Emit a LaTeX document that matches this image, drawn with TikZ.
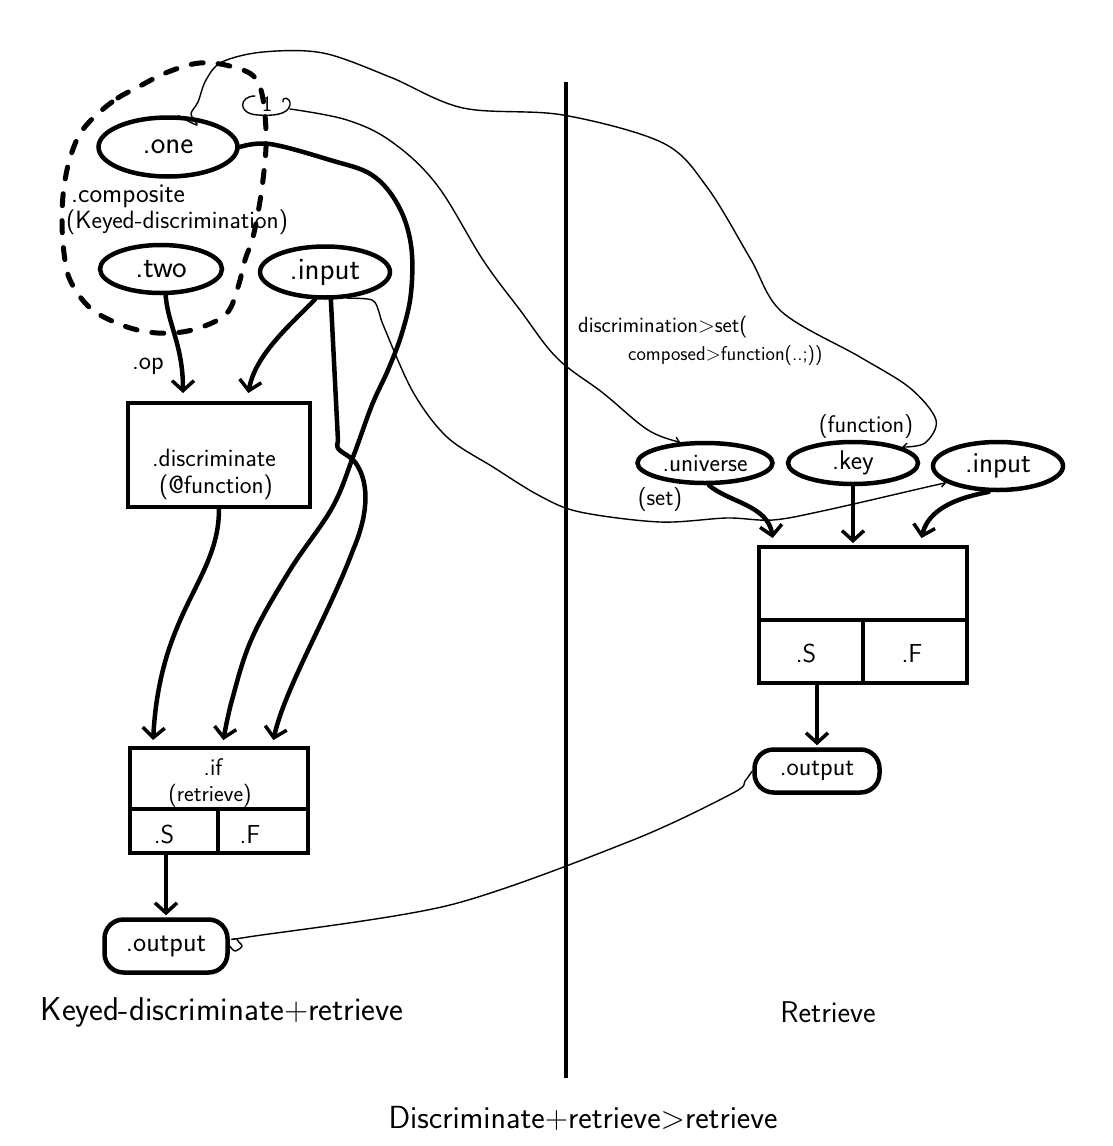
\documentclass[tikz,border=0pt]{standalone}
\usepackage{fontspec}
\usetikzlibrary{arrows.meta,shapes.geometric,calc}
\begin{document}
\begin{tikzpicture}[x=1pt,y=-1pt,
  lbl/.style={font=\sffamily\fontsize{#1}{#1}\selectfont, inner sep=0pt},
  lbl/.default=24,
  blob/.style={draw, ellipse, line width=4.5pt, inner sep=0pt},
  pill/.style={draw, rectangle, rounded corners=19pt, line width=4.5pt, inner sep=0pt},
  frame/.style={draw, rectangle, line width=4pt, inner sep=0pt},
  rule/.style={line width=4pt},
  wire/.style={line width=4.5pt, line cap=round, line join=round},
  feed/.style={wire, -{Straight Barb[length=10pt,width=22pt,line width=3.5pt]}, shorten >=2pt},
  link/.style={line width=1.4pt, line cap=round, line join=round},
  tiptag/.style={link, -{Straight Barb[length=4pt,width=8pt]}},
  ring/.style={line width=5pt, dash pattern=on 12pt off 15pt, line cap=round}
]
\useasboundingbox (0,0) rectangle (1112,1146);

% ---------- left half: keyed discrimination + retrieve ----------
\node[blob, minimum width=139pt, minimum height=59pt, lbl=31] (one) at (168,147) {.one};
\node[blob, minimum width=122pt, minimum height=48pt, lbl=31] (two) at (161,269) {.two};
\node[blob, minimum width=130pt, minimum height=51pt, lbl=31] (inL) at (325,272) {.input};

\node[lbl=27, anchor=west] (compA) at (71,196) {.composite};
\node[lbl=25, anchor=west] (compB) at (66,222) {(Keyed-discrimination)};

% dashed boundary of the composite
\draw[ring] plot[smooth cycle, tension=0.6] coordinates {
  (140,86) (112,102) (84,128) (71,155) (64,187) (62,220) (64,253) (70,280)
  (88,306) (112,321) (142,331) (173,333) (202,327) (227,313) (238,287)
  (245,260) (254,233) (263,180) (266,130) (258,82) (233,67) (200,63) (168,72)};

\node[lbl=26] (op) at (148,366) {.op};

\node[frame, minimum width=182pt, minimum height=104pt] (disc) at (219,455) {};
\node[lbl=25] (discA) at (214,458) {.discriminate};
\node[lbl=25] (discB) at (216,487) {(@function)};

\node[frame, minimum width=178pt, minimum height=105pt] (ifbox) at (219,800.5) {};
\coordinate (ifrow) at (0,809);
\coordinate (ifcol) at (218,809);
\draw[rule] (ifbox.west |- ifrow) -- (ifbox.east |- ifrow);
\draw[rule] (ifcol) -- (ifcol |- ifbox.south);
\node[lbl=24] (ifA) at (213,767) {.if};
\node[lbl=23] (ifB) at (210,796) {(retrieve)};
\node[lbl=26] (ifS) at (164,834) {.S};
\node[lbl=26] (ifF) at (250,834) {.F};

\node[pill, minimum width=123pt, minimum height=53pt, lbl=28] (outL) at (166,946) {.output};

\node[lbl=33] (titleL) at (222,1012) {Keyed-discriminate+retrieve};

% thick data flow, left half
\draw[feed] (two.-80) .. controls (168,325) and (183,345) .. ($(disc.north west)+(57,-6)$);
\draw[feed] (inL.-110) .. controls (290,325) and (255,355) .. ($(disc.north west)+(122,-6)$);
\draw[feed] (disc.south) .. controls (219,580) and (160,610) .. ($(ifbox.north west)+(25,-4)$);
\draw[feed] plot[smooth, tension=0.6] coordinates {(one.east) (270,144) (330,160) (372,175)
  (398,205) (411,245) (411,293) (402,333) (388,370) (372,405) (353,457) (332,508)
  (290,570) (252,638) (232,700) ($(ifbox.north west)+(95,-4)$)};
\draw[feed] (inL.-78) -- (338,441) .. controls (334,452) and (345,451) .. (355,462)
  .. controls (372,485) and (366,520) .. (353,550)
  .. controls (330,612) and (284,690) .. ($(ifbox.north west)+(145,-4)$);
\draw[feed] (ifbox.south -| outL) -- (outL.north);

% ---------- divider ----------
\coordinate (divTop) at (566,82);
\coordinate (divBot) at (566,1078);
\draw[rule] (divTop) -- (divBot);

% ---------- right half: retrieve ----------
\node[lbl=22, anchor=west] (noteA) at (578,327) {discrimination>set(};
\node[lbl=20, anchor=west] (noteB) at (628,356) {composed>function(..;))};
\node[lbl=24] (fnTag) at (866,427) {(function)};

\node[blob, minimum width=135pt, minimum height=40pt, lbl=25] (univ) at (705,463) {.universe};
\node[blob, minimum width=130pt, minimum height=42pt, lbl=27] (key) at (853,463) {.key};
\node[blob, minimum width=130pt, minimum height=48pt, lbl=29] (inR) at (998,466) {.input};
\node[lbl=24] (setTag) at (660,500) {(set)};

\node[frame, minimum width=208pt, minimum height=136pt] (ret) at (863,615) {};
\coordinate (retrow) at (0,620);
\coordinate (retcol) at (863,620);
\draw[rule] (ret.west |- retrow) -- (ret.east |- retrow);
\draw[rule] (retcol) -- (retcol |- ret.south);
\node[lbl=26] (retS) at (806,653) {.S};
\node[lbl=26] (retF) at (912,653) {.F};

\node[pill, minimum width=125pt, minimum height=43pt, lbl=26] (outR) at (817,771) {.output};

\node[lbl=30] (titleR) at (828,1012) {Retrieve};
\node[lbl=32] (titleAll) at (583,1118) {Discriminate+retrieve>retrieve};

% thick data flow, right half
\draw[feed] (univ.-80) .. controls (728,502) and (768,505) .. ($(ret.north west)+(16,-5)$);
\draw[feed] (key.south) -- (key.south |- ret.north);
\draw[feed] (inR.-110) .. controls (945,500) and (927,515) .. ($(ret.north west)+(164,-5)$);
\draw[feed] (outR.north |- ret.south) -- (outR.north);

% ---------- thin bindings across the halves ----------
\node[font=\sffamily\fontsize{22}{22}\selectfont, inner sep=0pt] (mark) at (267,104) {1};
\draw[link] (255,96) .. controls (239,96) and (237,114) .. (258,115)
  .. controls (272,116) and (288,115) .. (290,105) .. controls (291,97) and (282,96) .. (283,102);
\draw[tiptag] plot[smooth, tension=0.6] coordinates {(290,109) (347,120) (392,142) (437,185)
  (483,260) (520,310) (557,358) (603,393) (648,430) (univ.140)};

\draw[tiptag] plot[smooth, tension=0.55] coordinates {(one.72) (197,125) (191,114) (198,102)
  (206,80) (222,62) (263,52) (323,53) (390,77) (463,108) (563,115) (663,143) (707,187)
  (750,258) (782,312) (860,357) (910,388) (936,420) (925,443) (key.18)};

\draw[tiptag] plot[smooth, tension=0.55] coordinates {(inL.-50) (372,300) (379,312) (384,327)
  (413,392) (447,437) (493,467) (540,496) (580,512) (660,522) (727,518) (773,520) (827,510)
  (927,487) (inR.198)};

\draw[link] plot[smooth, tension=0.5] coordinates {(outL.east) (235,951) (242,946)
  (237,939) (248,937) (450,905) (633,840) (733,793) (745,781) (outR.west)};

\end{tikzpicture}
\end{document}
